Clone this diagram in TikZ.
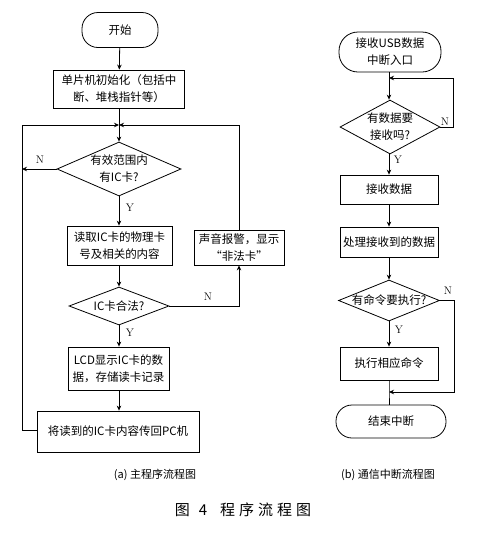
\documentclass[tikz,border=0pt]{standalone}
\usepackage{fontspec}
\newfontfamily\cjk{Noto Sans CJK SC}
\usetikzlibrary{shapes.geometric,arrows.meta}

\begin{document}
\begin{tikzpicture}[x=1pt,y=-1pt,
    font=\cjk\fontsize{11.5}{17}\selectfont,
    line width=0.8pt,
    >={Stealth[length=5pt,width=4.5pt]},
    box/.style={draw,rectangle,inner sep=0pt,align=center},
    term/.style={draw,rectangle,rounded corners=16pt,inner sep=0pt,align=center},
    dia/.style={draw,diamond,inner sep=0pt},
    yn/.style={font=\rmfamily\fontsize{11}{13}\selectfont,inner sep=0pt}]
    % Fundo
    \fill[white] (0,0) rectangle (482,539);
    \useasboundingbox (0,0) rectangle (482,539);

    % (a) programa principal
    \node[term,minimum width=76,minimum height=35] (start) at (120,30) {开始};
    \node[box,minimum width=131,minimum height=38] (init) at (119,89) {单片机初始化（包括中\\断、堆栈指针等）};
    \coordinate (m1) at (119,125);
    \node[dia,minimum width=124,minimum height=54,
          label={[align=center]center:有效范围内\\有IC卡?}] (d1) at (119,169) {};
    \node[box,minimum width=105,minimum height=39] (read) at (119.5,245.5) {读取IC卡的物理卡\\号及相关的内容};
    \node[box,minimum width=90,minimum height=35] (alarm) at (239,247.5) {声音报警，显示\\“非法卡”};
    \node[dia,minimum width=100,minimum height=38,
          label={center:IC卡合法?}] (d2) at (119,306) {};
    \node[box,minimum width=101,minimum height=43] (lcd) at (118.5,368.5) {LCD显示IC卡的数\\据，存储读卡记录};
    \node[box,minimum width=162,minimum height=41] (send) at (118,431.5) {将读到的IC卡内容传回PC机};

    \node[yn] (n1) at (40,160) {N};
    \node[yn] (y1) at (130,208) {Y};
    \node[yn] (n2) at (208,297) {N};
    \node[yn] (y2) at (130,333) {Y};

    \draw[->] (start) -- (init);
    \draw (init) -- (m1);
    \draw[->] (m1) -- (d1.north);
    \draw[->] (d1.west) -- (22,169);
    \draw[->] (send.west |- 0,430) -- (22,430) -- (22,125) -- (m1);
    \draw[->] (alarm.north) -- (239,125) -- (m1);
    \draw[->] (d1.south) -- (read.north -| d1.south);
    \draw[->] (read.south -| d2.north) -- (d2.north);
    \draw[->] (d2.east) -- (d2.east -| alarm.south) -- (alarm.south);
    \draw[->] (d2.south) -- (lcd.north -| d2.south);
    \draw[->] (lcd.south -| d2.south) -- (send.north -| d2.south);

    % (b) interrupcao de comunicacao
    \node[term,rounded corners=19pt,minimum width=102,minimum height=40] (usb) at (390,52) {接收USB数据\\中断入口};
    \coordinate (m2) at (389,78);
    \node[dia,minimum width=100,minimum height=54,
          label={[align=center]center:有数据要\\接收吗?}] (d3) at (390,127) {};
    \node[box,minimum width=98,minimum height=29] (recv) at (389,189.5) {接收数据};
    \node[box,minimum width=98,minimum height=30] (proc) at (389,242) {处理接收到的数据};
    \node[dia,minimum width=101,minimum height=41,
          label={center:有命令要执行?}] (d4) at (389,300.5) {};
    \node[box,minimum width=98,minimum height=33] (exec) at (389,363.5) {执行相应命令};
    \coordinate (m3) at (389,392);
    \node[term,minimum width=110,minimum height=33] (end) at (391,421.5) {结束中断};

    \node[yn] (n3) at (445,122) {N};
    \node[yn] (y3) at (398,160) {Y};
    \node[yn] (n4) at (448,291) {N};
    \node[yn] (y4) at (399,330) {Y};

    \draw (usb.south -| m2) -- (m2);
    \draw[->] (m2) -- (m2 |- d3.north);
    \draw[->] (d3.east) -- (453,127) -- (453,78) -- (m2);
    \draw[->] (m2 |- d3.south) -- (m2 |- recv.north);
    \draw[->] (recv.south) -- (proc.north);
    \draw[->] (proc.south) -- (d4.north);
    \draw[->] (d4.south) -- (exec.north);
    \draw[->] (d4.east) -- (454,300.5) -- (454,392) -- (m3);
    \draw (exec.south) -- (m3) -- (m3 |- end.north);

    % Legendas
    \node[font=\cjk\fontsize{11}{13}\selectfont] (capa) at (155,475) {(a) 主程序流程图};
    \node[font=\cjk\fontsize{11}{13}\selectfont] (capb) at (388,475) {(b) 通信中断流程图};
    \node[font=\cjk\fontsize{15}{18}\selectfont] (fig) at (243,510) {图\hspace{9pt}4\hspace{13pt}程\hspace{4pt}序\hspace{4pt}流\hspace{4pt}程\hspace{4pt}图};
\end{tikzpicture}
\end{document}
